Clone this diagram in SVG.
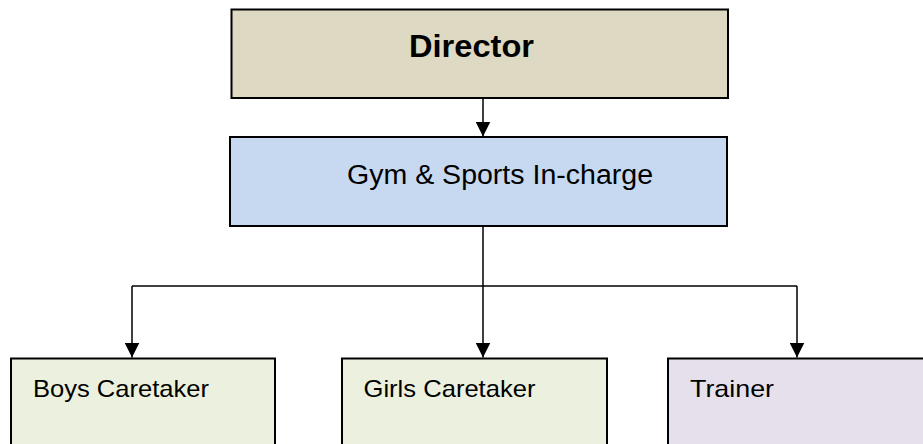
<svg xmlns="http://www.w3.org/2000/svg" width="923" height="444" viewBox="0 0 923 444">
<defs>
<style>
.box{stroke:#000;stroke-width:2}
.t{font-family:"Liberation Sans",Arial,sans-serif;fill:#000}
.c{fill:none;stroke:#000;stroke-width:1.5}
</style>
<marker id="ah" markerWidth="15" markerHeight="15" viewBox="0 0 15 15" refX="15" refY="7.5" orient="auto" markerUnits="userSpaceOnUse">
<path d="M0,0 L15,7.5 L0,15 Z" fill="#000"/>
</marker>
</defs>
<rect width="923" height="444" fill="#fff"/>
<g id="director">
<rect class="box" x="231.5" y="9.5" width="496.5" height="88.5" fill="#DDD9C3"/>
<text class="t" x="409" y="57" font-size="31" font-weight="bold" textLength="125" lengthAdjust="spacingAndGlyphs">Director</text>
</g>
<g id="gym">
<rect class="box" x="230" y="137" width="497" height="89" fill="#C6D9F1"/>
<text class="t" x="347" y="184" font-size="27" textLength="306" lengthAdjust="spacingAndGlyphs">Gym &amp; Sports In-charge</text>
</g>
<g id="boys">
<rect class="box" x="11" y="358.5" width="264" height="100" fill="#EBF1DE"/>
<text class="t" x="33" y="397" font-size="24" textLength="176" lengthAdjust="spacingAndGlyphs">Boys Caretaker</text>
</g>
<g id="girls">
<rect class="box" x="342" y="358.5" width="265" height="100" fill="#EBF1DE"/>
<text class="t" x="363.5" y="397" font-size="24" textLength="172" lengthAdjust="spacingAndGlyphs">Girls Caretaker</text>
</g>
<g id="trainer">
<rect class="box" x="668" y="358.5" width="270" height="100" fill="#E5E0EC"/>
<text class="t" x="690" y="397" font-size="24" textLength="84" lengthAdjust="spacingAndGlyphs">Trainer</text>
</g>
<g id="connectors">
<line class="c" x1="483" y1="98" x2="483" y2="136.5" marker-end="url(#ah)"/>
<line class="c" x1="483" y1="226" x2="483" y2="357.5" marker-end="url(#ah)"/>
<line class="c" x1="132" y1="286" x2="797" y2="286"/>
<line class="c" x1="132" y1="286" x2="132" y2="357.5" marker-end="url(#ah)"/>
<line class="c" x1="797" y1="286" x2="797" y2="357.5" marker-end="url(#ah)"/>
</g>
</svg>
